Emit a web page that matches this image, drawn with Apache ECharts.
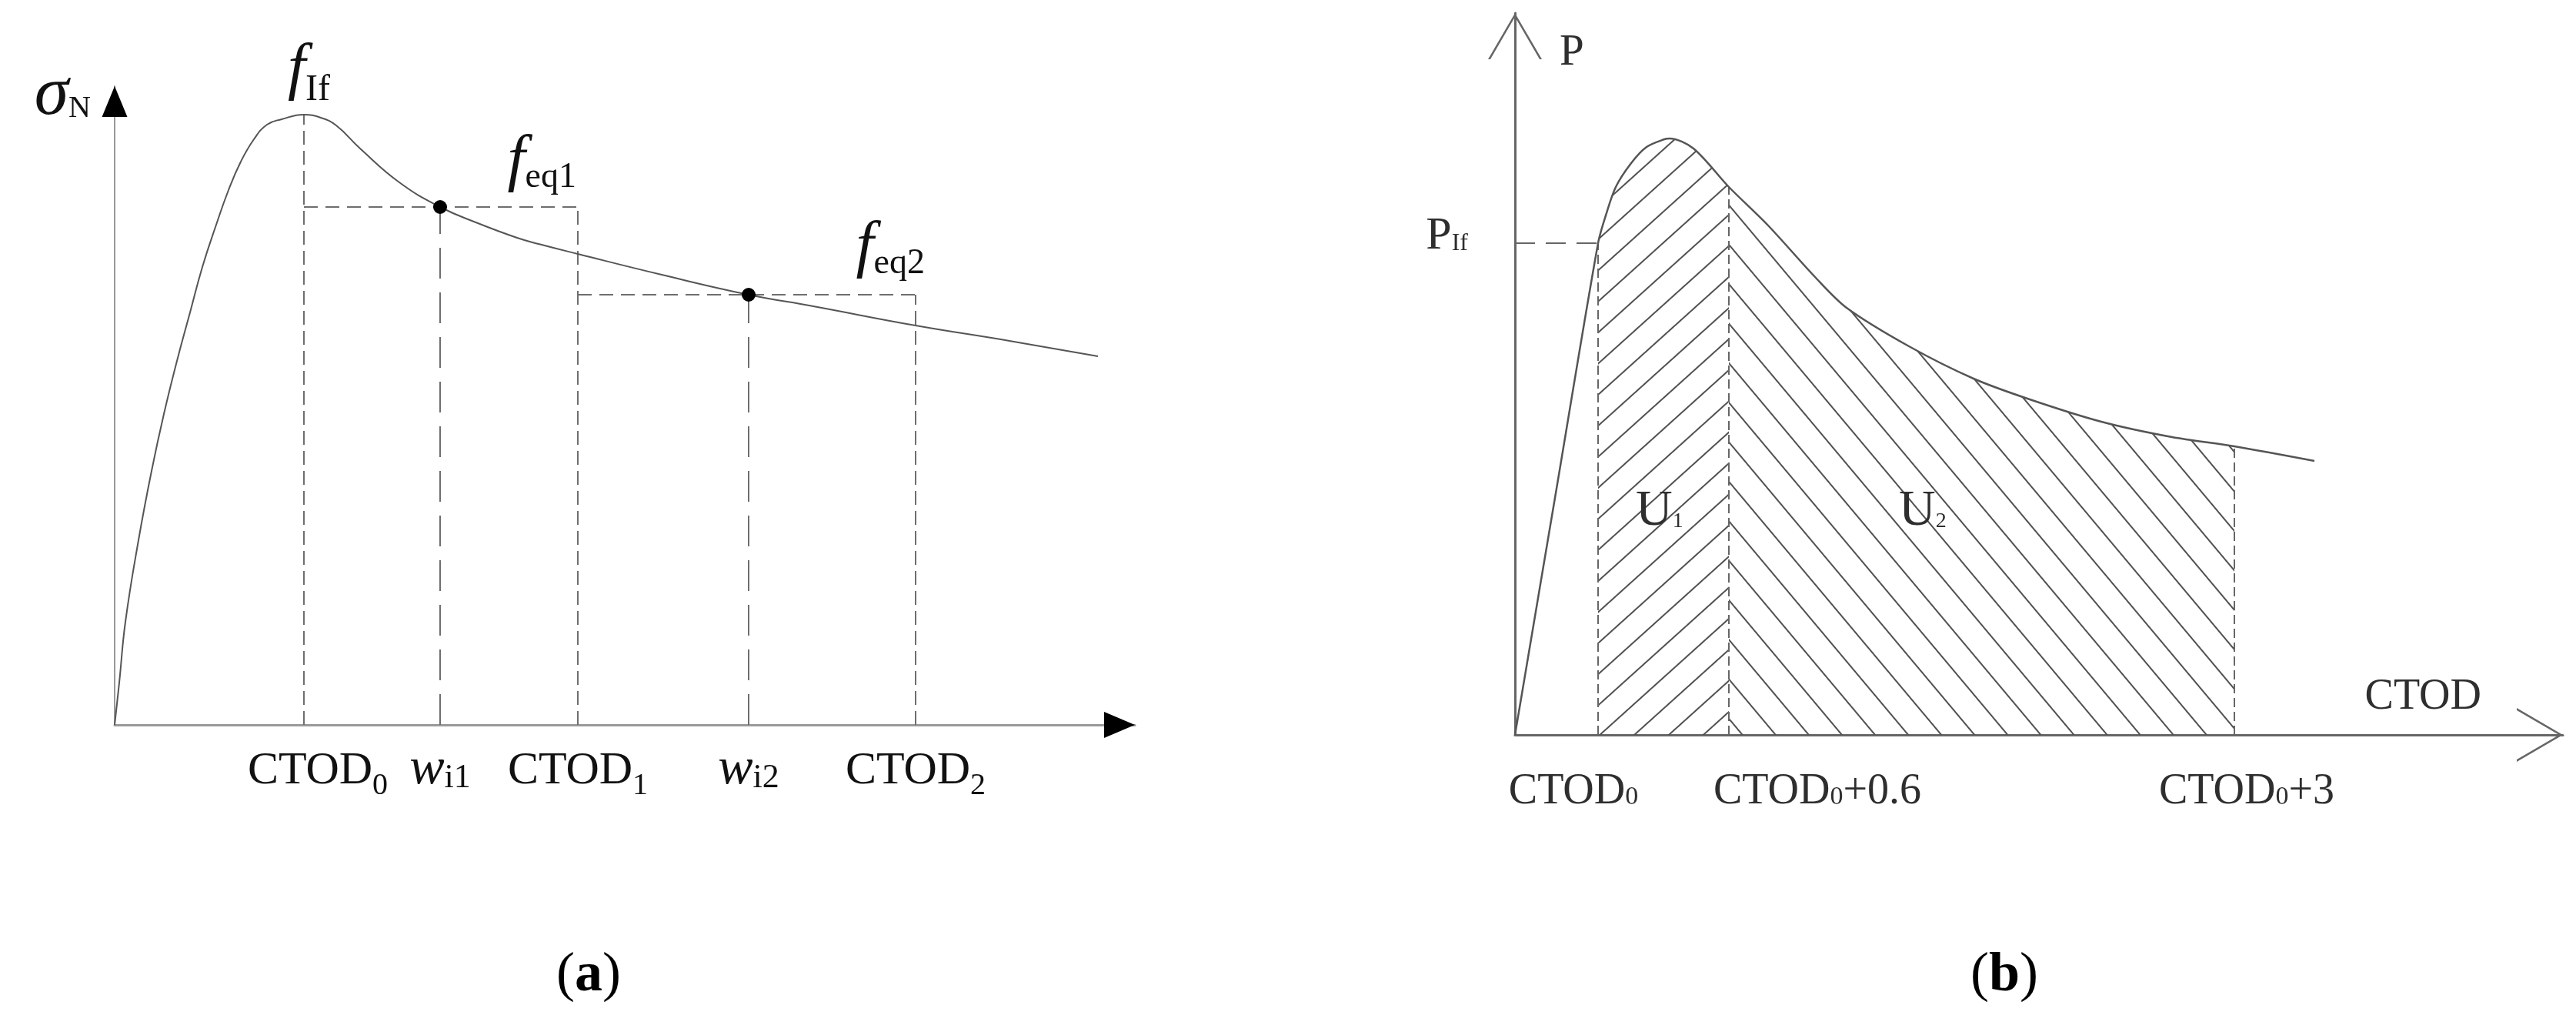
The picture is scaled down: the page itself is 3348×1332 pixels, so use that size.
<!DOCTYPE html>
<html>
<head>
<meta charset="utf-8">
<title>CTOD</title>
<script src="https://cdn.jsdelivr.net/npm/echarts@6.0.0/dist/echarts.min.js"></script>
<style>
  html, body { margin: 0; padding: 0; background: #fff; }
  #main { width: 3348px; height: 1332px; }
</style>
</head>
<body>
<div id="main"></div>
<script>
// (a) 名义应力 - CTOD 曲线
var curveA = [[0, 0], [6, 55], [14, 134], [31, 240], [48, 330], [64, 404], [81, 473], [98, 536], [114, 595], [131, 647], [148, 695], [164, 732], [181, 761], [198, 780], [217, 787], [246, 793], [268, 789], [288, 779], [319, 749], [370, 705], [423, 673], [472, 652], [523, 633], [551, 625], [602, 612], [711, 585], [824, 559], [908, 544], [1041, 519], [1163, 499], [1278, 479]];
var ctodA = [246, 602, 1041];          // CTOD0, CTOD1, CTOD2
var wA = [423, 824];                   // w_i1, w_i2
var feqA = [673, 559];                 // f_eq1, f_eq2
var peakA = [246, 793];                // f_If
var tickTextA = [['CTOD', '0'], ['w', 'i1'], ['CTOD', '1'], ['w', 'i2'], ['CTOD', '2']];

// (b) P - CTOD 曲线
var curveB = [[0, 0], [54, 320], [108, 639], [118, 675], [131, 712], [151, 743], [171, 764], [194, 774], [201, 775], [232, 762], [278, 712], [329, 662], [390, 595], [431, 555], [512, 505], [596, 463], [669, 436], [762, 407], [854, 387], [935, 375], [1039, 356]];
var ctodB = [108, 278, 935];           // CTOD0, CTOD0+0.6, CTOD0+3
var pIfB = 639;
var tickTextB = [['CTOD', '0', ''], ['CTOD', '0', '+0.6'], ['CTOD', '0', '+3']];
var areaNames = [['U', '1'], ['U', '2']];
var areaTags = [[157, 248], [499, 248]];   // 标注 U1 / U2 的位置
var shiftB = [-32, 115, 16];               // 横轴文字相对竖线的偏移

var SERIF = "'Liberation Serif', 'DejaVu Serif', serif";
var INK_A = '#111';
var INK_B = '#2e2e2e';

// 富文本样式: 基线对齐
function rs(size, h, extra) {
    var s = { fontFamily: SERIF, fontSize: size, height: h, lineHeight: h, verticalAlign: 'bottom' };
    for (var k in extra) { s[k] = extra[k]; }
    return s;
}
function gap(w) {
    return { width: w, height: 10, lineHeight: 10, verticalAlign: 'bottom', fontSize: 10 };
}

var ticksA = [ctodA[0], wA[0], ctodA[1], wA[1], ctodA[2]];
var richA = {
    c: rs(60, 81, { color: INK_A }),
    z: rs(40, 43, { color: INK_A }),
    w: rs(68, 86, { color: INK_A, fontStyle: 'italic' }),
    i: rs(44, 64, { color: INK_A }),
    g: gap(36)
};
var richF = {
    f: rs(83, 96, { color: INK_A, fontStyle: 'italic' }),
    si: rs(48, 43, { color: INK_A }),
    se: rs(46, 55, { color: INK_A })
};
var richB = {
    c: rs(56, 78, { color: INK_B }),
    z: rs(34, 63, { color: INK_B })
};

function fmtA(v) {
    var i = ticksA.indexOf(v);
    if (i < 0) return '';
    var t = tickTextA[i];
    if (t[0] === 'w') return '{w|w}{i|' + t[1] + '}';
    return (i === 0 ? '{g| }' : '') + '{c|' + t[0] + '}{z|' + t[1] + '}';
}

function valueAt(curve, x) {
    for (var i = 0; i < curve.length; i++) {
        if (curve[i][0] === x) return curve[i][1];
    }
    return 0;
}

function guide(p1, p2, dash, idx, color) {
    return {
        type: 'line', xAxisIndex: idx, yAxisIndex: idx,
        data: [p1, p2], showSymbol: false, silent: true, z: 3,
        lineStyle: { color: color, width: 2, type: dash }
    };
}

function hatch(deg, space) {
    return {
        symbol: 'rect', symbolSize: 1, color: '#505050',
        dashArrayX: [1, 0], dashArrayY: [2, space],
        rotation: deg * Math.PI / 180
    };
}

// 只显示文字的散点
function textLayer(idx, label, data) {
    label.show = true;
    label.opacity = 1;
    return {
        type: 'scatter', xAxisIndex: idx, yAxisIndex: idx, clip: false, symbolSize: 0, silent: true, z: 7,
        itemStyle: { color: 'rgba(0,0,0,0)', opacity: 1 },
        emphasis: { disabled: true },
        label: label,
        data: data
    };
}

var SHORT = [18, 8], LONG = [40, 18], HDASH = [18, 10];
var GA = '#6e6e6e', GB = '#666';

var seriesList = [];

// (b) 阴影区 U1 / U2
seriesList.push({
    type: 'line', xAxisIndex: 1, yAxisIndex: 1, smooth: 0.3, showSymbol: false, silent: true, z: 1,
    data: curveB.filter(function (p) { return p[0] >= ctodB[0] && p[0] <= ctodB[1]; }),
    lineStyle: { width: 0 },
    areaStyle: { color: 'rgba(255,255,255,0)', opacity: 1 },
    itemStyle: { decal: hatch(-42, 28) }
});
seriesList.push({
    type: 'line', xAxisIndex: 1, yAxisIndex: 1, smooth: 0.3, showSymbol: false, silent: true, z: 1,
    data: curveB.filter(function (p) { return p[0] >= ctodB[1] && p[0] <= ctodB[2]; }),
    lineStyle: { width: 0 },
    areaStyle: { color: 'rgba(255,255,255,0)', opacity: 1 },
    itemStyle: { decal: hatch(50, 31) }
});

// (a) 虚线
seriesList.push(guide([ctodA[0], 0], [ctodA[0], peakA[1]], SHORT, 0, GA));
seriesList.push(guide([ctodA[0], feqA[0]], [ctodA[1], feqA[0]], HDASH, 0, GA));
seriesList.push(guide([wA[0], 0], [wA[0], feqA[0]], LONG, 0, GA));
seriesList.push(guide([ctodA[1], 0], [ctodA[1], feqA[0]], SHORT, 0, GA));
seriesList.push(guide([ctodA[1], feqA[1]], [ctodA[2], feqA[1]], HDASH, 0, GA));
seriesList.push(guide([wA[1], 0], [wA[1], feqA[1]], LONG, 0, GA));
seriesList.push(guide([ctodA[2], 0], [ctodA[2], feqA[1]], SHORT, 0, GA));

// (b) 虚线
seriesList.push(guide([0, pIfB], [ctodB[0], pIfB], [26, 14], 1, GB));
seriesList.push(guide([ctodB[0], 0], [ctodB[0], pIfB], [12, 6], 1, GB));
seriesList.push(guide([ctodB[1], 0], [ctodB[1], valueAt(curveB, ctodB[1])], [12, 6], 1, GB));
seriesList.push(guide([ctodB[2], 0], [ctodB[2], valueAt(curveB, ctodB[2])], [12, 6], 1, GB));

// 曲线
seriesList.push({
    type: 'line', xAxisIndex: 0, yAxisIndex: 0, smooth: 0.45, showSymbol: false, silent: true, z: 4,
    data: curveA, lineStyle: { color: '#555', width: 2 }
});
seriesList.push({
    type: 'line', xAxisIndex: 1, yAxisIndex: 1, smooth: 0.3, showSymbol: false, silent: true, z: 4,
    data: curveB, lineStyle: { color: '#555', width: 2.5 }
});

// 黑点
seriesList.push({
    type: 'scatter', xAxisIndex: 0, yAxisIndex: 0, symbolSize: 18, silent: true, z: 6,
    itemStyle: { color: '#000', opacity: 1 },
    data: wA.map(function (x, i) { return [x, feqA[i]]; })
});

// f 标注
seriesList.push(textLayer(0, { rich: richF }, [
    { value: peakA, label: { formatter: '{f|f}{si|If}', position: [-21, -10], align: 'left', verticalAlign: 'bottom' } },
    { value: [ctodA[1], feqA[0]], label: { formatter: '{f|f}{se|eq1}', position: [-2, -11], align: 'right', verticalAlign: 'bottom' } },
    { value: [ctodA[2], feqA[1]], label: { formatter: '{f|f}{se|eq2}', position: [12, -13], align: 'right', verticalAlign: 'bottom' } }
]));

// U1 / U2 标注
seriesList.push(textLayer(1, {
    position: [0, 0], align: 'left', verticalAlign: 'bottom',
    formatter: function (p) { var t = areaNames[p.dataIndex]; return '{u|' + t[0] + '}{n|' + t[1] + '}'; },
    rich: { u: rs(66, 85, { color: INK_B }), n: rs(28, 59, { color: INK_B }) }
}, areaTags));

// (b) 横轴 CTOD 文字
seriesList.push(textLayer(1, {
    rich: richB, align: 'center', verticalAlign: 'bottom',
    formatter: function (p) {
        var t = tickTextB[p.dataIndex];
        return '{c|' + t[0] + '}{z|' + t[1] + '}' + (t[2] ? '{c|' + t[2] + '}' : '');
    }
}, ctodB.map(function (x, i) { return { value: [x, 0], label: { position: [shiftB[i], 113] } }; })));

function axis(o) {
    var a = { type: 'value', axisTick: { show: false }, splitLine: { show: false }, axisLabel: { show: false } };
    for (var k in o) { a[k] = o[k]; }
    return a;
}

var chevron = 'path://M35,0L70,60L67,60L35,5L3,60L0,60Z';

var option = {
    animation: false,
    backgroundColor: '#fff',
    textStyle: { fontFamily: SERIF },
    grid: [
        { left: 149, top: 112, width: 1326, height: 830, outerBoundsMode: 'none' },
        { left: 1969, top: 17, width: 1362, height: 938, outerBoundsMode: 'none' }
    ],
    xAxis: [
        axis({
            gridIndex: 0, min: 0, max: 1326, position: 'bottom',
            axisLine: { onZero: false, lineStyle: { color: '#999', width: 3 } },
            axisLabel: {
                show: true, customValues: ticksA, formatter: fmtA, rich: richA, hideOverlap: false,
                margin: 101, verticalAlign: 'bottom', align: 'center'
            }
        }),
        axis({
            gridIndex: 1, min: 0, max: 1362, position: 'bottom',
            name: '{c|CTOD}', nameLocation: 'end', nameGap: 0, nameMoveOverlap: false,
            nameTextStyle: { align: 'right', verticalAlign: 'bottom', padding: [0, 106, 19, 0], rich: { c: rs(56, 60, { color: INK_B }) } },
            axisLine: {
                onZero: false, symbol: ['none', chevron], symbolSize: [70, 60], symbolOffset: [0, -30],
                lineStyle: { color: '#666', width: 3 }
            }
        }),
        axis({
            gridIndex: 0, min: 0, max: 1326, position: 'bottom',
            axisLine: {
                onZero: false, symbol: ['none', 'triangle'], symbolSize: [34, 40], symbolOffset: [0, -20],
                lineStyle: { color: '#000', opacity: 0 }
            }
        })
    ],
    yAxis: [
        axis({
            gridIndex: 0, min: 0, max: 830, position: 'left',
            name: '{s|σ}{n|N}', nameLocation: 'end', nameGap: 0, nameMoveOverlap: false,
            nameTextStyle: {
                align: 'right', verticalAlign: 'middle', padding: [25, 31, 0, 0],
                rich: { s: rs(90, 100, { color: INK_A, fontStyle: 'italic' }), n: rs(40, 66, { color: INK_A }) }
            },
            axisLine: { onZero: false, lineStyle: { color: '#999', width: 2 } }
        }),
        axis({
            gridIndex: 1, min: 0, max: 938, position: 'left',
            name: '{p|P}', nameLocation: 'end', nameGap: 0, nameMoveOverlap: false,
            nameTextStyle: { align: 'left', verticalAlign: 'top', padding: [22, 0, 0, 58], rich: { p: rs(57, 60, { color: INK_B }) } },
            axisLine: {
                onZero: false, symbol: ['none', chevron], symbolSize: [70, 60], symbolOffset: [0, -30],
                lineStyle: { color: '#666', width: 3 }
            },
            axisLabel: {
                show: true, customValues: [pIfB], margin: 61, verticalAlign: 'middle', padding: [0, 0, 17, 0],
                formatter: function () { return '{p|P}{s|If}'; },
                rich: { p: rs(60, 64, { color: INK_B }), s: rs(32, 45, { color: INK_B }) }
            }
        }),
        axis({
            gridIndex: 0, min: 0, max: 830, position: 'left',
            axisLine: {
                onZero: false, symbol: ['none', 'triangle'], symbolSize: [33, 40], symbolOffset: [0, -20],
                lineStyle: { color: '#000', opacity: 0 }
            }
        })
    ],
    graphic: [
        {
            type: 'text', x: 765, y: 1268, silent: true,
            style: {
                text: '({b|a})', fontFamily: SERIF, fontSize: 72, fill: '#000', align: 'center', verticalAlign: 'middle',
                rich: { b: { fontFamily: SERIF, fontSize: 72, fontWeight: 'bold', fill: '#000' } }
            }
        },
        {
            type: 'text', x: 2605, y: 1268, silent: true,
            style: {
                text: '({b|b})', fontFamily: SERIF, fontSize: 72, fill: '#000', align: 'center', verticalAlign: 'middle',
                rich: { b: { fontFamily: SERIF, fontSize: 72, fontWeight: 'bold', fill: '#000' } }
            }
        }
    ],
    series: seriesList
};

var myChart = echarts.init(document.getElementById('main'));
myChart.setOption(option);

window.addEventListener('resize', function () {
    myChart.resize();
});
</script>
</body>
</html>
